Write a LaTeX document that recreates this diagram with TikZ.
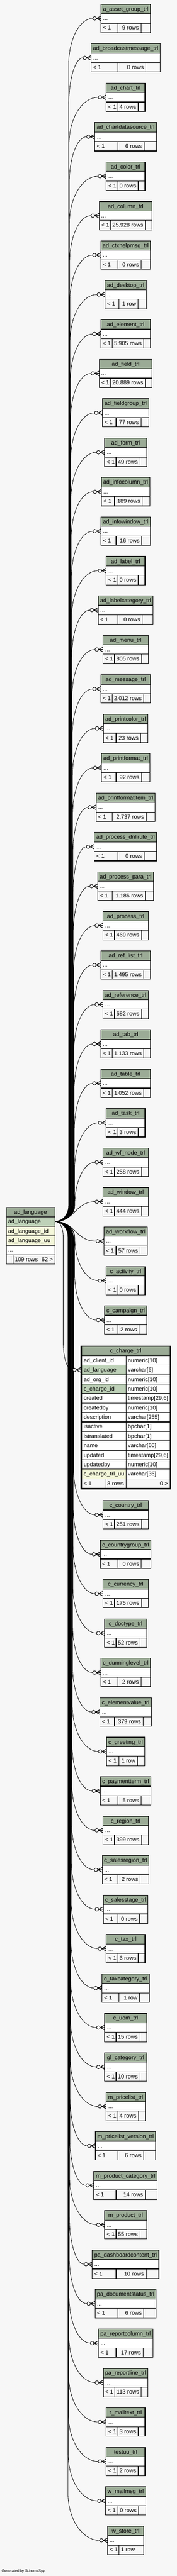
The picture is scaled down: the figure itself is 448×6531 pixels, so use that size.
\documentclass[tikz,border=0pt]{standalone}
\usepackage{fontspec}
\setmainfont{Liberation Sans}
\definecolor{bg}{HTML}{F7F7F7}
\definecolor{hdr}{HTML}{9BAB96}
\definecolor{pk}{HTML}{BED1B8}
\definecolor{idx}{HTML}{F4F7DA}
\newlength\tw
\newcommand\tabfont{\fontsize{10.75pt}{12pt}\selectfont}
\tikzset{
  cell/.style={draw=black, line width=1.1pt},
  pcell/.style={draw=black!80, line width=1.3pt},
  txt/.style={font=\tabfont, inner sep=0pt, text=black},
  edge/.style={draw=black, line width=0.8pt},
  crowfoot/.style={draw=black, line width=1.1pt},
  ring/.style={draw=black, fill=white, line width=0.9pt},
}
% measure texts outside the picture (TikZ uses \nullfont inside)
\newcommand\measure[3]{%
  \expandafter\gdef\csname nm#1\endcsname{#2}%
  \expandafter\gdef\csname rw#1\endcsname{#3}%
  \settowidth\tw{\tabfont #2}\expandafter\xdef\csname nw#1\endcsname{\the\tw}%
  \settowidth\tw{\tabfont #3}\expandafter\xdef\csname ww#1\endcsname{\the\tw}%
}
\newcommand\drawedge[3]{%
  \pgfmathsetmacro\dd{#3-3097}%
  \pgfmathsetmacro\ad{abs(\dd)}%
  \pgfmathsetmacro\s{\dd<0 ? -1 : 1}%
  \pgfmathtruncatemacro\isnear{\ad<100 ? 1 : 0}%
  \ifnum\isnear=1
    \pgfmathsetmacro\hx{0.5*(#2-139)}%
    \draw[edge] (src) .. controls (139+\hx,3097) and (#2-\hx,#3) .. (#1);
  \else
    \pgfmathsetmacro\bx{172+18*(1-\ad/3350)}%
    \pgfmathsetmacro\A{min(120,\ad-40)}%
    \pgfmathsetmacro\pa{3097+(\s*40)}%
    \pgfmathsetmacro\ca{3097+(\s*17.9)}%
    \pgfmathsetmacro\pb{#3-(\s*\A)}%
    \pgfmathsetmacro\cb{#3-(\s*0.448*\A)}%
    \pgfmathsetmacro\cx{139+0.552*(\bx-139)}%
    \pgfmathsetmacro\cc{#2-0.552*(#2-\bx)}%
    \draw[edge] (src) .. controls (\cx,3097) and (\bx,\ca) .. (\bx,\pa) -- (\bx,\pb) .. controls (\bx,\cb) and (\cc,#3) .. (#1);
  \fi
}
\newcommand\childtable[2]{%
  \pgfmathsetmacro\nameW{\csname nw#1\endcsname/0.75}%
  \pgfmathsetmacro\rowsW{\csname ww#1\endcsname/0.75}%
  \pgfmathsetmacro\FF{\rowsW+56}%
  \pgfmathsetmacro\WW{max(\nameW+10,\FF)}%
  \pgfmathsetmacro\EE{\WW-\FF}%
  \pgfmathsetmacro\LL{318-\WW/2}%
  \pgfmathsetmacro\RR{318+\WW/2}%
  \pgfmathsetmacro\xa{\LL+29+\EE/2}%
  \pgfmathsetmacro\xb{\xa+\rowsW+10+\EE/4}%
  \pgfmathsetmacro\ya{#2}%
  \pgfmathsetmacro\yb{#2+24}%
  \pgfmathsetmacro\yc{#2+48}%
  \pgfmathsetmacro\yd{#2+72}%
  \pgfmathsetmacro\ym{#2+36}%
  \pgfmathsetmacro\tx{\LL-20.5}%
  \coordinate (#1-t) at (\tx,\ym);
  \drawedge{#1-t}{\tx}{\ym}%
  \path[cell,fill=hdr] (\LL,\ya) rectangle (\RR,\yb);
  \path[cell,fill=white] (\LL,\yb) rectangle (\RR,\yc);
  \path[cell,fill=bg] (\LL,\yc) rectangle (\xa,\yd);
  \path[cell,fill=bg] (\xa,\yc) rectangle (\xb,\yd);
  \path[cell,fill=bg] (\xb,\yc) rectangle (\RR,\yd);
  \node[txt,anchor=base] (#1-h) at (318,#2+17) {\csname nm#1\endcsname};
  \node[txt,anchor=base west] (#1-d) at (\LL+5,#2+41) {...};
  \node[txt,anchor=base west] (#1-p) at (\LL+5,#2+65) {< 1};
  \node[txt,anchor=base east] (#1-r) at (\xb-5,#2+65) {\csname rw#1\endcsname};
  \draw[crowfoot] (\LL-11.5,\ym) -- (\LL,\ym-6) (\LL-11.5,\ym) -- (\LL,\ym) (\LL-11.5,\ym) -- (\LL,\ym+6);
  \draw[ring] (\LL-16,\ym) circle[radius=4.5];
}
\newcommand\chargerow[4]{%
  \pgfmathsetmacro\ra{3437+24*(#1-1)}%
  \pgfmathsetmacro\rb{\ra+24}%
  \path[cell,fill=#4] (206,\ra) rectangle (319,\rb);
  \path[cell,fill=white] (319,\ra) rectangle (430.5,\rb);
  \node[txt,anchor=base west] (cr#1a) at (211.5,\ra+17) {#2};
  \node[txt,anchor=base west] (cr#1b) at (323.5,\ra+17) {#3};
}
\begin{document}
\measure{t1}{a\_asset\_group\_trl}{9 rows}
\measure{t2}{ad\_broadcastmessage\_trl}{0 rows}
\measure{t3}{ad\_chart\_trl}{4 rows}
\measure{t4}{ad\_chartdatasource\_trl}{6 rows}
\measure{t5}{ad\_color\_trl}{0 rows}
\measure{t6}{ad\_column\_trl}{25.928 rows}
\measure{t7}{ad\_ctxhelpmsg\_trl}{0 rows}
\measure{t8}{ad\_desktop\_trl}{1 row}
\measure{t9}{ad\_element\_trl}{5.905 rows}
\measure{t10}{ad\_field\_trl}{20.889 rows}
\measure{t11}{ad\_fieldgroup\_trl}{77 rows}
\measure{t12}{ad\_form\_trl}{49 rows}
\measure{t13}{ad\_infocolumn\_trl}{189 rows}
\measure{t14}{ad\_infowindow\_trl}{16 rows}
\measure{t15}{ad\_label\_trl}{0 rows}
\measure{t16}{ad\_labelcategory\_trl}{0 rows}
\measure{t17}{ad\_menu\_trl}{805 rows}
\measure{t18}{ad\_message\_trl}{2.012 rows}
\measure{t19}{ad\_printcolor\_trl}{23 rows}
\measure{t20}{ad\_printformat\_trl}{92 rows}
\measure{t21}{ad\_printformatitem\_trl}{2.737 rows}
\measure{t22}{ad\_process\_drillrule\_trl}{0 rows}
\measure{t23}{ad\_process\_para\_trl}{1.186 rows}
\measure{t24}{ad\_process\_trl}{469 rows}
\measure{t25}{ad\_ref\_list\_trl}{1.495 rows}
\measure{t26}{ad\_reference\_trl}{582 rows}
\measure{t27}{ad\_tab\_trl}{1.133 rows}
\measure{t28}{ad\_table\_trl}{1.052 rows}
\measure{t29}{ad\_task\_trl}{3 rows}
\measure{t30}{ad\_wf\_node\_trl}{258 rows}
\measure{t31}{ad\_window\_trl}{444 rows}
\measure{t32}{ad\_workflow\_trl}{57 rows}
\measure{t33}{c\_activity\_trl}{0 rows}
\measure{t34}{c\_campaign\_trl}{2 rows}
\measure{t36}{c\_country\_trl}{251 rows}
\measure{t37}{c\_countrygroup\_trl}{0 rows}
\measure{t38}{c\_currency\_trl}{175 rows}
\measure{t39}{c\_doctype\_trl}{52 rows}
\measure{t40}{c\_dunninglevel\_trl}{2 rows}
\measure{t41}{c\_elementvalue\_trl}{379 rows}
\measure{t42}{c\_greeting\_trl}{1 row}
\measure{t43}{c\_paymentterm\_trl}{5 rows}
\measure{t44}{c\_region\_trl}{399 rows}
\measure{t45}{c\_salesregion\_trl}{2 rows}
\measure{t46}{c\_salesstage\_trl}{0 rows}
\measure{t47}{c\_tax\_trl}{6 rows}
\measure{t48}{c\_taxcategory\_trl}{1 row}
\measure{t49}{c\_uom\_trl}{15 rows}
\measure{t50}{gl\_category\_trl}{10 rows}
\measure{t51}{m\_pricelist\_trl}{4 rows}
\measure{t52}{m\_pricelist\_version\_trl}{6 rows}
\measure{t53}{m\_product\_category\_trl}{14 rows}
\measure{t54}{m\_product\_trl}{55 rows}
\measure{t55}{pa\_dashboardcontent\_trl}{10 rows}
\measure{t56}{pa\_documentstatus\_trl}{6 rows}
\measure{t57}{pa\_reportcolumn\_trl}{17 rows}
\measure{t58}{pa\_reportline\_trl}{113 rows}
\measure{t59}{r\_mailtext\_trl}{3 rows}
\measure{t60}{testuu\_trl}{2 rows}
\measure{t61}{w\_mailmsg\_trl}{0 rows}
\measure{t62}{w\_store\_trl}{1 row}%
\begin{tikzpicture}[x=0.75pt,y=-0.75pt]
\fill[bg] (0,0) rectangle (448,6531);
\useasboundingbox (0,0) rectangle (448,6531);
\coordinate (src) at (139,3097);

\childtable{t1}{10.7}
\childtable{t2}{110.7}
\childtable{t3}{210.7}
\childtable{t4}{310.7}
\childtable{t5}{410.7}
\childtable{t6}{510.7}
\childtable{t7}{610.7}
\childtable{t8}{710.7}
\childtable{t9}{810.7}
\childtable{t10}{910.7}
\childtable{t11}{1010.7}
\childtable{t12}{1110.7}
\childtable{t13}{1210.7}
\childtable{t14}{1310.7}
\childtable{t15}{1410.7}
\childtable{t16}{1510.7}
\childtable{t17}{1610.7}
\childtable{t18}{1710.7}
\childtable{t19}{1810.7}
\childtable{t20}{1910.7}
\childtable{t21}{2010.7}
\childtable{t22}{2110.7}
\childtable{t23}{2210.7}
\childtable{t24}{2310.7}
\childtable{t25}{2410.7}
\childtable{t26}{2510.7}
\childtable{t27}{2610.7}
\childtable{t28}{2710.7}
\childtable{t29}{2810.7}
\childtable{t30}{2910.7}
\childtable{t31}{3010.7}
\childtable{t32}{3110.7}
\childtable{t33}{3210.7}
\childtable{t34}{3310.7}

\childtable{t36}{3804.5}
\childtable{t37}{3904.5}
\childtable{t38}{4004.5}
\childtable{t39}{4104.5}
\childtable{t40}{4204.5}
\childtable{t41}{4304.5}
\childtable{t42}{4404.5}
\childtable{t43}{4504.5}
\childtable{t44}{4604.5}
\childtable{t45}{4704.5}
\childtable{t46}{4804.5}
\childtable{t47}{4904.5}
\childtable{t48}{5004.5}
\childtable{t49}{5104.5}
\childtable{t50}{5204.5}
\childtable{t51}{5304.5}
\childtable{t52}{5404.5}
\childtable{t53}{5504.5}
\childtable{t54}{5604.5}
\childtable{t55}{5704.5}
\childtable{t56}{5804.5}
\childtable{t57}{5904.5}
\childtable{t58}{6004.5}
\childtable{t59}{6104.5}
\childtable{t60}{6204.5}
\childtable{t61}{6304.5}
\childtable{t62}{6404.5}

% c_charge_trl (full table)
\coordinate (t35-t) at (184,3473);
\draw[edge] (src) .. controls (152,3097) and (160,3112) .. (160,3137) -- (160,3400) .. controls (160,3445) and (170,3473) .. (t35-t);
\path[cell,fill=hdr] (206,3413.5) rectangle (430.5,3437);
\node[txt,anchor=base] (t35-h) at (318.25,3430) {c\_charge\_trl};
\chargerow{1}{ad\_client\_id}{numeric[10]}{white}
\chargerow{2}{ad\_language}{varchar[6]}{pk}
\chargerow{3}{ad\_org\_id}{numeric[10]}{white}
\chargerow{4}{c\_charge\_id}{numeric[10]}{pk}
\chargerow{5}{created}{timestamp[29,6]}{white}
\chargerow{6}{createdby}{numeric[10]}{white}
\chargerow{7}{description}{varchar[255]}{white}
\chargerow{8}{isactive}{bpchar[1]}{white}
\chargerow{9}{istranslated}{bpchar[1]}{white}
\chargerow{10}{name}{varchar[60]}{white}
\chargerow{11}{updated}{timestamp[29,6]}{white}
\chargerow{12}{updatedby}{numeric[10]}{white}
\chargerow{13}{c\_charge\_trl\_uu}{varchar[36]}{idx}
\path[cell,fill=bg] (206,3749) rectangle (268,3773);
\path[cell,fill=bg] (268,3749) rectangle (319,3773);
\path[cell,fill=bg] (319,3749) rectangle (430.5,3773);
\node[txt,anchor=base west] (t35-p) at (211.5,3766) {< 1};
\node[txt,anchor=base east] (t35-r) at (314,3766) {3 rows};
\node[txt,anchor=base east] (t35-c) at (425.5,3766) {0 >};
\draw[black, line width=2.3pt] (205.5,3413) rectangle (431,3774);
\draw[crowfoot] (192.5,3473) -- (204,3467) (192.5,3473) -- (204,3473) (192.5,3473) -- (204,3479);
\draw[ring] (188.5,3473) circle[radius=4.5];

% ad_language (parent)
\path[pcell,fill=hdr] (15.5,3061) rectangle (139,3085);
\path[pcell,fill=pk] (15.5,3085) rectangle (139,3109);
\path[pcell,fill=idx] (15.5,3109) rectangle (139,3133);
\path[pcell,fill=idx] (15.5,3133) rectangle (139,3157);
\path[pcell,fill=white] (15.5,3157) rectangle (139,3181);
\path[pcell,fill=bg] (15.5,3181) rectangle (33.3,3205);
\path[pcell,fill=bg] (33.3,3181) rectangle (101,3205);
\path[pcell,fill=bg] (101,3181) rectangle (139,3205);
\node[txt,anchor=base] (lang-h) at (77.25,3078) {ad\_language};
\node[txt,anchor=base west] (lang-1) at (20.5,3102) {ad\_language};
\node[txt,anchor=base west] (lang-2) at (20.5,3126) {ad\_language\_id};
\node[txt,anchor=base west] (lang-3) at (20.5,3150) {ad\_language\_uu};
\node[txt,anchor=base west] (lang-4) at (20.5,3174) {...};
\node[txt,anchor=base east] (lang-r) at (96,3198) {109 rows};
\node[txt,anchor=base east] (lang-c) at (134,3198) {62 >};

\node[font=\fontsize{7pt}{8pt}\selectfont, inner sep=0pt, anchor=base west] (gen) at (4,6521) {Generated by SchemaSpy};
\end{tikzpicture}
\end{document}
